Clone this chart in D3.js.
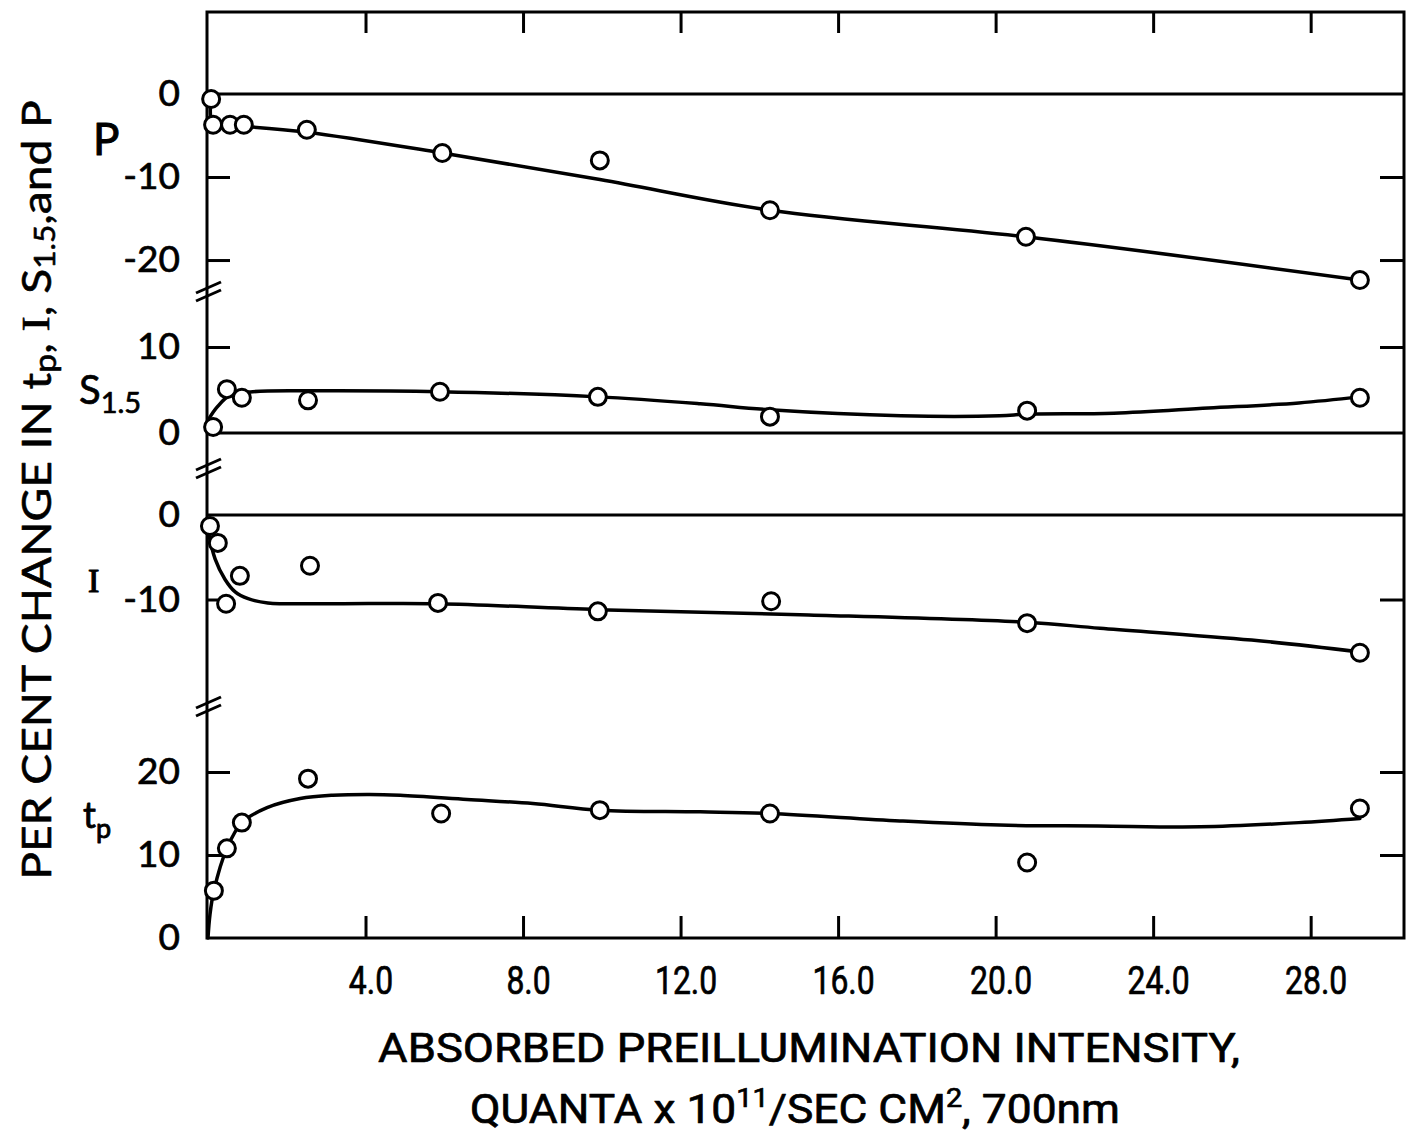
<!DOCTYPE html>
<html>
<head>
<meta charset="utf-8">
<script src="https://cdn.jsdelivr.net/npm/d3@7"></script>
<style>
  body { margin: 0; background: #fff; }
  svg { display: block; }
</style>
</head>
<body>
<svg id="chart" width="1421" height="1134"></svg>
<script>
// ---- data -------------------------------------------------------------
// x axis: absorbed preillumination intensity (quanta x 10^11 / sec cm^2)
const xTickValues = [4, 8, 12, 16, 20, 24, 28];
const xTickLabels = ["4.0", "8.0", "12.0", "16.0", "20.0", "24.0", "28.0"];

// P (per cent change)
const pX = [0.08, 0.13, 0.56, 0.91, 2.51, 5.95, 9.95, 14.27, 20.77, 29.25];
const pY = [-0.6, -3.7, -3.7, -3.7, -4.3, -7.1, -8.0, -14.0, -17.2, -22.4];
const pFitX = [0.08, 0.13, 0.91, 2.51, 5.95, 9.95, 14.27, 20.77, 29.25];
const pFitY = [-0.6, -3.7, -3.9, -4.6, -7.1, -10.3, -14.0, -17.2, -22.4];

// S1.5
const sX = [0.13, 0.48, 0.86, 2.54, 5.89, 9.9, 14.27, 20.8, 29.25];
const sY = [0.7, 5.1, 4.1, 3.8, 4.8, 4.2, 1.9, 2.6, 4.1];
const sFitX = [0.03, 0.23, 0.56, 1.14, 2.51, 5.89, 9.9, 12.5, 14.27, 17.6, 20.1, 20.8, 23.0, 25.4, 27.7, 29.25];
const sFitY = [1.7, 3.0, 4.4, 4.8, 4.9, 4.8, 4.2, 3.4, 2.7, 2.0, 2.0, 2.2, 2.3, 2.9, 3.5, 4.2];

// I
const iX = [0.05, 0.25, 0.46, 0.81, 2.59, 5.84, 9.9, 14.3, 20.8, 29.25];
const iY = [-1.3, -3.3, -10.5, -7.2, -6.0, -10.4, -11.4, -10.2, -12.8, -16.3];
const iFitX = [0.0, 0.18, 0.43, 0.69, 1.02, 1.52, 3.05, 5.84, 9.9, 15.03, 20.8, 22.65, 26.5, 29.25];
const iFitY = [-1.8, -5.2, -7.6, -9.1, -9.9, -10.4, -10.5, -10.5, -11.2, -11.8, -12.7, -13.4, -14.8, -16.2];

// tp
const tX = [0.15, 0.48, 0.86, 2.54, 5.92, 9.95, 14.27, 20.8, 29.25];
const tY = [5.7, 10.8, 13.9, 19.2, 15.0, 15.4, 15.0, 9.1, 15.6];
const tFitX = [0, 0.05, 0.15, 0.48, 0.86, 1.5, 2.34, 3.17, 4.1, 4.88, 6.58, 8.25, 9.95, 12.5, 14.27, 17.57, 20.1, 22.6, 25.2, 27.7, 29.25];
const tFitY = [0, 2.8, 5.7, 10.8, 13.9, 15.7, 16.8, 17.2, 17.3, 17.2, 16.7, 16.2, 15.4, 15.2, 15.0, 14.1, 13.6, 13.5, 13.4, 13.9, 14.4];

// per-panel value ranges and axis ticks
const pDomain = [-23.73, 9.88], pTicks = [0, -10, -20], pInner = [-10, -20];
const sDomain = [-4.07, 16.51], sTicks = [10, 0], sInner = [10];
const iDomain = [-22.6, 5.56], iTicks = [0, -10], iInner = [-10];
const tDomain = [0, 27.95], tTicks = [20, 10, 0], tInner = [20, 10];

// ---- layout -----------------------------------------------------------
const frame = { left: 207, right: 1404, top: 12, bottom: 938 };
const bands = [[12, 291], [291, 468], [468, 706], [706, 938]];

const panels = [
  { x: pX, y: pY, fx: pFitX, fy: pFitY, domain: pDomain, ticks: pTicks, inner: pInner, zero: true },
  { x: sX, y: sY, fx: sFitX, fy: sFitY, domain: sDomain, ticks: sTicks, inner: sInner, zero: true },
  { x: iX, y: iY, fx: iFitX, fy: iFitY, domain: iDomain, ticks: iTicks, inner: iInner, zero: true },
  { x: tX, y: tY, fx: tFitX, fy: tFitY, domain: tDomain, ticks: tTicks, inner: tInner, zero: false }
];

const svg = d3.select("#chart");
const ink = "#000";
const sans = "Lato, 'Open Sans', 'DejaVu Sans', sans-serif";
const narrow = "Roboto, 'Liberation Sans', sans-serif";
const serif = "'Liberation Serif', 'DejaVu Serif', serif";

// heavier lettering: thin outline on top of the glyph fill
function heavy(sel, w) {
  return sel.attr("fill", ink).attr("stroke", ink).attr("stroke-width", w)
    .attr("stroke-linejoin", "round");
}

const x = d3.scaleLinear().domain([-0.025, 30.37]).range([frame.left, frame.right]);

// ---- frame + x axes ---------------------------------------------------
svg.append("rect")
  .attr("x", frame.left).attr("y", frame.top)
  .attr("width", frame.right - frame.left).attr("height", frame.bottom - frame.top)
  .attr("fill", "none").attr("stroke", ink).attr("stroke-width", 3);

const xBottom = svg.append("g")
  .attr("transform", `translate(0,${frame.bottom})`)
  .call(d3.axisBottom(x).tickValues(xTickValues)
    .tickFormat((d, i) => xTickLabels[i]).tickSize(-22).tickPadding(29));
xBottom.select(".domain").remove();
xBottom.selectAll("line").attr("stroke", ink).attr("stroke-width", 3);
heavy(xBottom.selectAll("text"), 0.7)
  .attr("font-family", narrow).attr("font-size", 38)
  .attr("transform", "translate(5,0) scale(0.84,1)");

const xTop = svg.append("g")
  .attr("transform", `translate(0,${frame.top})`)
  .call(d3.axisTop(x).tickValues(xTickValues).tickFormat("").tickSize(-21));
xTop.select(".domain").remove();
xTop.selectAll("line").attr("stroke", ink).attr("stroke-width", 3);

// ---- panels -----------------------------------------------------------
const line = d3.line().curve(d3.curveCatmullRom.alpha(0.5));

panels.forEach((p, k) => {
  const y = d3.scaleLinear().domain(p.domain).range([bands[k][1], bands[k][0]]);

  // left axis: inward ticks with labels
  const left = svg.append("g")
    .attr("transform", `translate(${frame.left},0)`)
    .call(d3.axisLeft(y).tickValues(p.ticks).tickFormat(d3.format("d"))
      .tickSize(-23).tickPadding(27));
  left.select(".domain").remove();
  left.selectAll("line").attr("stroke", ink).attr("stroke-width", 3)
    .attr("display", d => p.inner.includes(d) ? null : "none");
  heavy(left.selectAll("text"), 0.7)
    .text(d => d < 0 ? "-" + Math.abs(d) : String(d))
    .attr("font-family", sans).attr("font-size", 37);

  // right axis: inward ticks only
  const right = svg.append("g")
    .attr("transform", `translate(${frame.right},0)`)
    .call(d3.axisRight(y).tickValues(p.inner).tickFormat("").tickSize(-24));
  right.select(".domain").remove();
  right.selectAll("line").attr("stroke", ink).attr("stroke-width", 3);

  // zero reference line across the panel
  if (p.zero) {
    svg.append("line")
      .attr("x1", frame.left).attr("x2", frame.right)
      .attr("y1", y(0)).attr("y2", y(0))
      .attr("stroke", ink).attr("stroke-width", 3);
  }

  // fitted curve
  svg.append("path")
    .attr("d", line(p.fx.map((v, i) => [x(v), y(p.fy[i])])))
    .attr("fill", "none").attr("stroke", ink).attr("stroke-width", 3.5)
    .attr("stroke-linejoin", "round").attr("stroke-linecap", "round");

  // measured points
  svg.append("g").selectAll("circle")
    .data(p.x.map((v, i) => [v, p.y[i]]))
    .join("circle")
    .attr("cx", d => x(d[0])).attr("cy", d => y(d[1]))
    .attr("r", 8.5).attr("fill", "#fff").attr("stroke", ink).attr("stroke-width", 3);
});

// axis breaks between panels
const breakYs = [bands[0][1], bands[1][1], bands[2][1]];
breakYs.forEach(c => {
  [-4, 4].forEach(off => {
    svg.append("line")
      .attr("x1", frame.left - 11).attr("y1", c + off + 6)
      .attr("x2", frame.left + 14).attr("y2", c + off - 5)
      .attr("stroke", ink).attr("stroke-width", 3);
  });
});

// ---- series labels ----------------------------------------------------
heavy(svg.append("text"), 1).attr("x", 93).attr("y", 155)
  .attr("font-family", sans).attr("font-size", 44).text("P");

const sLab = heavy(svg.append("text"), 0.7).attr("x", 79).attr("y", 404)
  .attr("font-family", sans).attr("font-size", 40);
sLab.append("tspan").text("S");
sLab.append("tspan").attr("font-size", 29).attr("dy", 9).text("1.5");

heavy(svg.append("text"), 1.2).attr("x", 88).attr("y", 592)
  .attr("font-family", serif).attr("font-size", 34).text("I");

const tLab = heavy(svg.append("text"), 0.9).attr("x", 83).attr("y", 828)
  .attr("font-family", sans).attr("font-size", 36);
tLab.append("tspan").text("t");
tLab.append("tspan").attr("font-size", 27).attr("dy", 10).text("p");

// ---- axis titles ------------------------------------------------------
function fitWidth(sel, cx, cy, target, rotate) {
  const w = sel.node().getComputedTextLength();
  const s = target / w;
  sel.attr("x", 0).attr("y", 0).attr("text-anchor", "middle")
    .attr("transform", `translate(${cx},${cy})${rotate ? " rotate(-90)" : ""} scale(${s},1)`);
}

const yTitle = heavy(svg.append("text"), 0.6)
  .attr("font-family", sans).attr("font-size", 41)
  .attr("dominant-baseline", "central");
yTitle.append("tspan").text("PER CENT CHANGE IN t");
yTitle.append("tspan").attr("font-size", 30).attr("dy", 9).text("p");
yTitle.append("tspan").attr("dy", -9).text(", ");
yTitle.append("tspan").attr("font-family", serif).text("I");
yTitle.append("tspan").text(", S");
yTitle.append("tspan").attr("font-size", 28).attr("dy", 9).text("1.5");
yTitle.append("tspan").attr("dy", -9).text(",and P");
fitWidth(yTitle, 35, 490, 780, true);

const xTitle1 = heavy(svg.append("text"), 0.7)
  .attr("font-family", narrow).attr("font-size", 40)
  .text("ABSORBED PREILLUMINATION INTENSITY,");
fitWidth(xTitle1, 809, 1062, 862, false);

const xTitle2 = heavy(svg.append("text"), 0.7)
  .attr("font-family", narrow).attr("font-size", 40);
xTitle2.append("tspan").text("QUANTA x 10");
xTitle2.append("tspan").attr("font-size", 26).attr("dy", -16).text("11");
xTitle2.append("tspan").attr("dy", 16).text("/SEC  CM");
xTitle2.append("tspan").attr("font-size", 26).attr("dy", -16).text("2");
xTitle2.append("tspan").attr("dy", 16).text(", 700nm");
fitWidth(xTitle2, 795, 1123, 650, false);
</script>
</body>
</html>
